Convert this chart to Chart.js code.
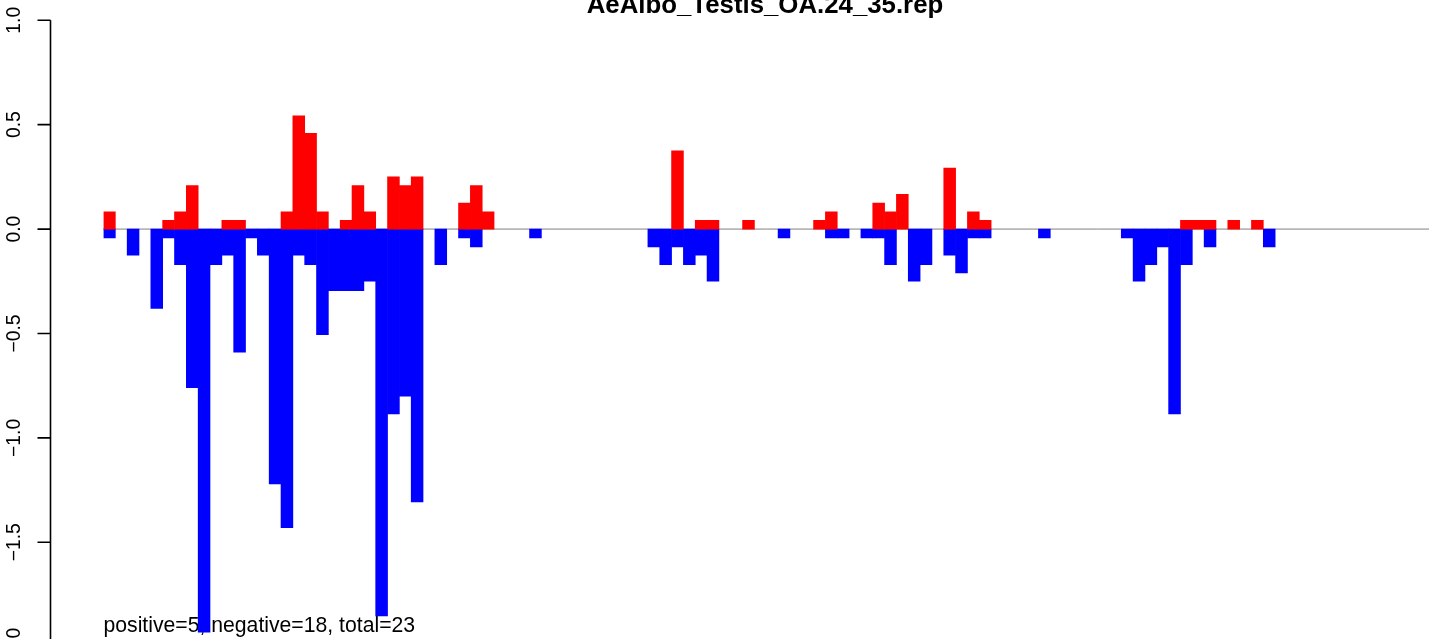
<!DOCTYPE html>
<html>
<head>
<meta charset="utf-8">
<script src="https://cdn.jsdelivr.net/npm/chart.js@4/dist/chart.umd.min.js"></script>
<style>
  html, body { margin: 0; padding: 0; background: #fff; overflow: hidden; }
  canvas { display: block; }
</style>
</head>
<body>
<canvas id="chart" width="1429" height="639"></canvas>
<script>
// chart data
const chartTitle = 'AeAlbo_Testis_OA.24_35.rep';
const summaryText = 'positive=5, negative=18, total=23';

const bins = Array.from({ length: 112 }, (_, i) => String(i + 1));

const positiveValues = [
  0.083, 0, 0, 0, 0, 0.042, 0.083, 0.208, 0, 0,
  0.042, 0.042, 0, 0, 0, 0.083, 0.542, 0.458, 0.083, 0,
  0.042, 0.208, 0.083, 0, 0.25, 0.208, 0.25, 0, 0, 0,
  0.125, 0.208, 0.083, 0, 0, 0, 0, 0, 0, 0,
  0, 0, 0, 0, 0, 0, 0, 0, 0.375, 0,
  0.042, 0.042, 0, 0, 0.042, 0, 0, 0, 0, 0,
  0.042, 0.083, 0, 0, 0, 0.125, 0.083, 0.167, 0, 0,
  0, 0.292, 0, 0.083, 0.042, 0, 0, 0, 0, 0,
  0, 0, 0, 0, 0, 0, 0, 0, 0, 0,
  0, 0.042, 0.042, 0.042, 0, 0.042, 0, 0.042, 0, 0,
  0, 0, 0, 0, 0, 0, 0, 0, 0, 0,
  0, 0
];

const negativeValues = [
  -0.042, 0, -0.125, 0, -0.38, -0.042, -0.17, -0.76, -1.93, -0.17,
  -0.125, -0.59, -0.042, -0.125, -1.22, -1.43, -0.125, -0.17, -0.506, -0.295,
  -0.295, -0.295, -0.25, -1.853, -0.885, -0.8, -1.307, 0, -0.17, 0,
  -0.042, -0.085, 0, 0, 0, 0, -0.042, 0, 0, 0,
  0, 0, 0, 0, 0, 0, -0.085, -0.17, -0.085, -0.17,
  -0.125, -0.25, 0, 0, 0, 0, 0, -0.042, 0, 0,
  0, -0.042, -0.042, 0, -0.042, -0.042, -0.17, 0, -0.25, -0.17,
  0, -0.125, -0.21, -0.042, -0.042, 0, 0, 0, 0, -0.042,
  0, 0, 0, 0, 0, 0, -0.042, -0.25, -0.17, -0.085,
  -0.885, -0.17, 0, -0.085, 0, 0, 0, 0, -0.085, 0,
  0, 0, 0, 0, 0, 0, 0, 0, 0, 0,
  0, 0
];

const yTickValues = [1.0, 0.5, 0.0, -0.5, -1.0, -1.5, -2.0];
const yTickLabels = ['1.0', '0.5', '0.0', '\u22120.5', '\u22121.0', '\u22121.5', '\u22122.0'];

// visible y window of the cropped plot
const Y_MIN = -1.963;
const Y_MAX = 1.097;

const FONT = "'Liberation Sans', Arial, Helvetica, sans-serif";
const AXIS_X = 50.5;

// empty bins draw nothing (no hairline over the zero line)
const skipZero = (v) => (v === 0 ? null : v);

// zero line and the summary line sit under the bars
const underlay = {
  id: 'underlay',
  beforeDatasetsDraw(chart) {
    const { ctx, chartArea, scales } = chart;
    const y0 = scales.y.getPixelForValue(0);
    ctx.save();
    ctx.strokeStyle = '#808080';
    ctx.lineWidth = 1;
    ctx.beginPath();
    ctx.moveTo(chartArea.left, y0);
    ctx.lineTo(chart.width, y0);
    ctx.stroke();

    ctx.fillStyle = '#000';
    ctx.font = `21.2px ${FONT}`;
    ctx.textAlign = 'left';
    ctx.textBaseline = 'alphabetic';
    ctx.fillText(summaryText, chartArea.left, 632);
    ctx.restore();
  }
};

// R style left axis with rotated labels, plus the title
const rAxis = {
  id: 'rAxis',
  afterDraw(chart) {
    const { ctx, scales } = chart;
    const y = scales.y;
    const top = y.getPixelForValue(yTickValues[0]);
    const bottom = y.getPixelForValue(yTickValues[yTickValues.length - 1]);
    ctx.save();
    ctx.strokeStyle = '#000';
    ctx.lineWidth = 1.6;
    ctx.beginPath();
    ctx.moveTo(AXIS_X, top);
    ctx.lineTo(AXIS_X, bottom);
    yTickValues.forEach((v) => {
      const py = y.getPixelForValue(v);
      ctx.moveTo(AXIS_X, py);
      ctx.lineTo(AXIS_X - 13, py);
    });
    ctx.stroke();

    ctx.fillStyle = '#000';
    ctx.font = `19.3px ${FONT}`;
    ctx.textAlign = 'center';
    ctx.textBaseline = 'alphabetic';
    yTickValues.forEach((v, i) => {
      const py = y.getPixelForValue(v);
      ctx.save();
      ctx.translate(19.5, py);
      ctx.rotate(-Math.PI / 2);
      ctx.fillText(yTickLabels[i], 0, 0);
      ctx.restore();
    });

    ctx.font = `bold 25.8px ${FONT}`;
    ctx.textAlign = 'center';
    ctx.fillText(chartTitle, 765, 13);
    ctx.restore();
  }
};

new Chart(document.getElementById('chart'), {
  type: 'bar',
  data: {
    labels: bins,
    datasets: [
      {
        label: 'positive',
        data: positiveValues.map(skipZero),
        backgroundColor: '#ff0000',
        borderWidth: 0,
        grouped: false,
        categoryPercentage: 1,
        barPercentage: 1,
      },
      {
        label: 'negative',
        data: negativeValues.map(skipZero),
        backgroundColor: '#0000ff',
        borderWidth: 0,
        grouped: false,
        categoryPercentage: 1,
        barPercentage: 1,
      },
    ],
  },
  options: {
    responsive: false,
    animation: false,
    layout: { padding: { left: 103.5, right: -2.5, top: 0, bottom: 0 } },
    plugins: {
      legend: { display: false },
      title: { display: false },
      tooltip: { enabled: false },
    },
    scales: {
      x: { type: 'category', display: false, offset: true, grid: { display: false } },
      y: { type: 'linear', display: false, min: Y_MIN, max: Y_MAX, grid: { display: false } },
    },
  },
  plugins: [underlay, rAxis],
});
</script>
</body>
</html>
